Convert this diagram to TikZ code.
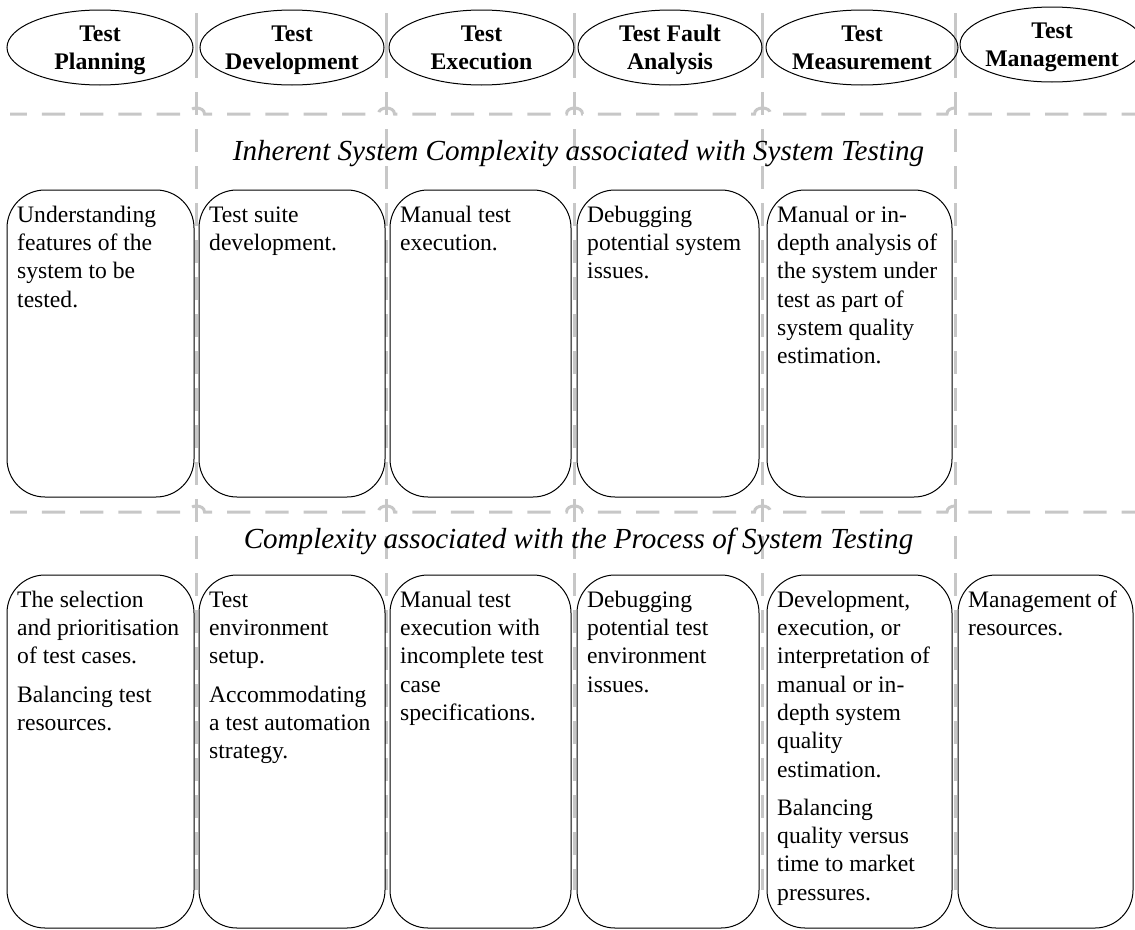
\documentclass[tikz,border=0pt]{standalone}
\usepackage{fontspec}
\setmainfont{Liberation Serif}
\usetikzlibrary{shapes.geometric}

% one framed text cell: name, left, top, right, bottom, text
\newcommand\mycell[6]{%
  \draw[cellframe] (#2,#3) rectangle (#4,#5);
  \node[celltext] (#1) at (#2+10,#3+12.2) {\strut #6};}

\begin{document}
\begin{tikzpicture}[x=1pt,y=-1pt,
  sepline/.style={draw=black!22, line width=3pt},
  cellframe/.style={draw=black, line width=1pt, rounded corners=38pt},
  celltext/.style={anchor=north west, inner sep=0pt, align=left,
    font=\fontsize{23.6}{28.3}\selectfont},
  phase/.style={draw=black, line width=1pt, ellipse, inner sep=0pt,
    minimum height=75pt},
  phasetext/.style={inner sep=0pt, align=center,
    font=\fontsize{23.8}{28.8}\selectfont\bfseries},
  bandtitle/.style={anchor=base, inner sep=0pt,
    font=\fontsize{29.1}{34}\selectfont\itshape}]
\useasboundingbox (0,0) rectangle (1135,929);

% swimlane separators
\foreach \x in {196.5,386.5,574.5,762.5,955} {
  \draw[sepline] (\x,13) -- (\x,78);
  \draw[sepline, dash pattern=on 23pt off 14pt] (\x,92) -- (\x,890);
}
\foreach \y in {114,512} {
  \draw[sepline, dash pattern=on 23.3pt off 15pt, dash phase=6.5pt]
    (10,\y) \foreach \x in {196.5,386.5,574.5,762.5,955} {
      -- (\x-8,\y) .. controls (\x-8,\y-8) and (\x+8,\y-8) .. (\x+8,\y)}
    -- (1135,\y);
}

% phase headers
\node[phase, minimum width=186pt] (p1) at (100,47.5) {};
\node[phase, minimum width=184pt] (p2) at (292,47.5) {};
\node[phase, minimum width=185pt] (p3) at (481.5,47.5) {};
\node[phase, minimum width=184pt] (p4) at (670,47.5) {};
\node[phase, minimum width=192pt] (p5) at (862,47.5) {};
\node[phase, minimum width=184pt] (p6) at (1052,44.5) {};
\node[phasetext] (h1) at ([yshift=-2.3pt]p1.center) {\strut Test\\\strut Planning};
\node[phasetext] (h2) at ([yshift=-2.3pt]p2.center) {\strut Test\\\strut Development};
\node[phasetext] (h3) at ([yshift=-2.3pt]p3.center) {\strut Test\\\strut Execution};
\node[phasetext] (h4) at ([yshift=-2.3pt]p4.center) {\strut Test Fault\\\strut Analysis};
\node[phasetext] (h5) at ([yshift=-2.3pt]p5.center) {\strut Test\\\strut Measurement};
\node[phasetext] (h6) at ([yshift=-2.3pt]p6.center) {\strut Test\\\strut Management};

% band titles
\node[bandtitle] (t1) at (578.5,160) {Inherent System Complexity associated with System Testing};
\node[bandtitle] (t2) at (578.5,548) {Complexity associated with the Process of System Testing};

% inherent complexity row
\mycell{a1}{7}{190}{194}{497}{Understanding\\features of the\\system to be\\tested.}
\mycell{a2}{199}{190}{385}{497}{Test suite\\development.}
\mycell{a3}{390}{190}{571}{497}{Manual test\\execution.}
\mycell{a4}{577}{190}{759}{497}{Debugging\\potential system\\issues.}
\mycell{a5}{767}{190}{952}{497}{Manual or in-\\depth analysis of\\the system under\\test as part of\\system quality\\estimation.}

% process complexity row
\mycell{b1}{7}{575}{194}{928}{The selection\\and prioritisation\\of test cases.\\[10pt]Balancing test\\resources.}
\mycell{b2}{199}{575}{385}{928}{Test\\environment\\setup.\\[10pt]Accommodating\\a test automation\\strategy.}
\mycell{b3}{390}{575}{571}{928}{Manual test\\execution with\\incomplete test\\case\\specifications.}
\mycell{b4}{577}{575}{759}{928}{Debugging\\potential test\\environment\\issues.}
\mycell{b5}{767}{575}{952}{928}{Development,\\execution, or\\interpretation of\\manual or in-\\depth system\\quality\\estimation.\\[10pt]Balancing\\quality versus\\time to market\\pressures.}
\mycell{b6}{958}{575}{1133}{928}{Management of\\resources.}
\end{tikzpicture}
\end{document}
